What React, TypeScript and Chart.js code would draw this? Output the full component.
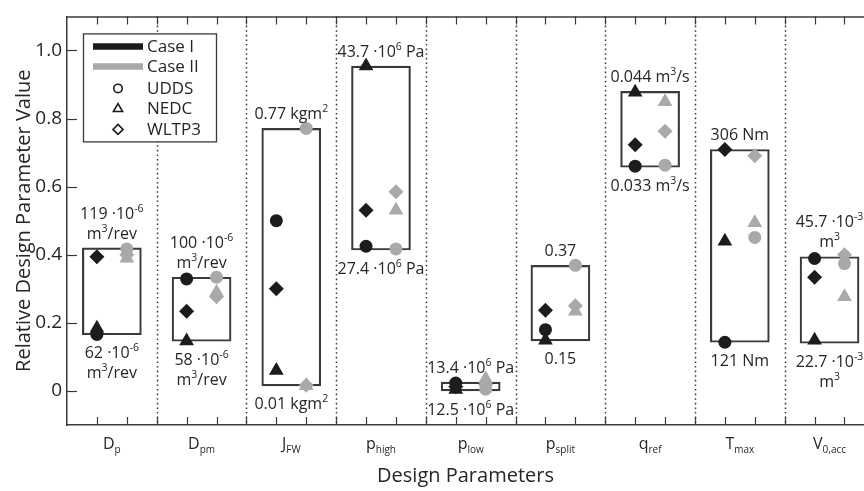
import React, { useEffect, useRef } from 'react';
import { Chart, registerables } from 'chart.js';

Chart.register(...registerables);

const FONT = '"Open Sans", sans-serif';
const BLACK = '#1c1c1c';
const GRAY = '#a9a9ab';
const AXIS = '#3a3a3a';
const TEXT = '#262626';

// Categories (main letter + subscript)
const catMain = ['D', 'D', 'J', 'p', 'p', 'p', 'q', 'T', 'V'];
const catSub = ['p', 'pm', 'FW', 'high', 'low', 'split', 'ref', 'max', '0,acc'];

// Range boxes (relative values)
const boxLow = [0.165, 0.146, 0.015, 0.414, 0.0, 0.147, 0.657, 0.143, 0.14];
const boxHigh = [0.42, 0.334, 0.771, 0.954, 0.026, 0.369, 0.88, 0.709, 0.394];

// Case I markers
const caseI_UDDS = [0.166, 0.329, 0.5, 0.425, 0.023, 0.18, 0.66, 0.143, 0.389];
const caseI_NEDC = [0.184, 0.147, 0.06, 0.954, 0.004, 0.149, 0.877, 0.44, 0.149];
const caseI_WLTP3 = [0.394, 0.234, 0.3, 0.531, 0.012, 0.237, 0.723, 0.709, 0.334];

// Case II markers
const caseII_UDDS = [0.417, 0.334, 0.771, 0.417, 0.005, 0.369, 0.663, 0.451, 0.374];
const caseII_NEDC = [0.39, 0.29, 0.015, 0.531, 0.036, 0.234, 0.849, 0.494, 0.277];
const caseII_WLTP3 = [0.4, 0.277, 0.017, 0.585, 0.018, 0.25, 0.763, 0.691, 0.4];

// Annotations above / below each box
const topNotes = [
  ['119 ·10^{-6}', 'm^{3}/rev'],
  ['100 ·10^{-6}', 'm^{3}/rev'],
  ['0.77 kgm^{2}'],
  ['43.7 ·10^{6} Pa'],
  ['13.4 ·10^{6} Pa'],
  ['0.37'],
  ['0.044 m^{3}/s'],
  ['306 Nm'],
  ['45.7 ·10^{-3}', 'm^{3}'],
];
const bottomNotes = [
  ['62 ·10^{-6}', 'm^{3}/rev'],
  ['58 ·10^{-6}', 'm^{3}/rev'],
  ['0.01 kgm^{2}'],
  ['27.4 ·10^{6} Pa'],
  ['12.5 ·10^{6} Pa'],
  ['0.15'],
  ['0.033 m^{3}/s'],
  ['121 Nm'],
  ['22.7 ·10^{-3}', 'm^{3}'],
];

const yTicks = [0, 0.2, 0.4, 0.6, 0.8, 1.0];
const legendCases = ['Case I', 'Case II'];
const legendCycles = ['UDDS', 'NEDC', 'WLTP3'];

type Seg = { t: string; k: 'n' | 'sup' | 'sub' };

function parseRich(s: string): Seg[] {
  const parts = s.split(/(\^\{[^}]*\}|_\{[^}]*\})/).filter((p) => p.length);
  return parts.map((p) => {
    if (p.startsWith('^{')) return { t: p.slice(2, -1), k: 'sup' as const };
    if (p.startsWith('_{')) return { t: p.slice(2, -1), k: 'sub' as const };
    return { t: p, k: 'n' as const };
  });
}

function drawRich(ctx: CanvasRenderingContext2D, segs: Seg[], cx: number, cy: number, size: number, small: number, shift: number) {
  const fontFor = (k: string) => `${k === 'n' ? size : small}px ${FONT}`;
  let w = 0;
  for (const s of segs) {
    ctx.font = fontFor(s.k);
    w += ctx.measureText(s.t).width;
  }
  let x = cx - w / 2;
  ctx.textAlign = 'left';
  ctx.textBaseline = 'alphabetic';
  const base = cy + size * 0.35;
  for (const s of segs) {
    ctx.font = fontFor(s.k);
    const dy = s.k === 'sup' ? -shift : s.k === 'sub' ? shift * 0.6 : 0;
    ctx.fillText(s.t, x, base + dy);
    x += ctx.measureText(s.t).width;
  }
}

function marker(ctx: CanvasRenderingContext2D, style: string, x: number, y: number, r: number) {
  ctx.beginPath();
  if (style === 'circle') {
    ctx.arc(x, y, r, 0, Math.PI * 2);
  } else if (style === 'triangle') {
    const h = r * 1.15;
    ctx.moveTo(x, y - h);
    ctx.lineTo(x + h * 0.95, y + h * 0.65);
    ctx.lineTo(x - h * 0.95, y + h * 0.65);
    ctx.closePath();
  } else {
    const h = r * 1.2;
    ctx.moveTo(x, y - h);
    ctx.lineTo(x + h, y);
    ctx.lineTo(x, y + h);
    ctx.lineTo(x - h, y);
    ctx.closePath();
  }
  ctx.stroke();
}

const overlay = {
  id: 'overlay',
  beforeDatasetsDraw(chart: any) {
    const { ctx, chartArea: a, scales } = chart;
    const x = scales.x;
    ctx.save();
    ctx.strokeStyle = AXIS;
    ctx.lineWidth = 1.5;
    ctx.setLineDash([1.6, 3]);
    for (let i = 1; i < catMain.length; i++) {
      const px = Math.round(x.getPixelForValue(i + 0.5)) + 0.5;
      ctx.beginPath();
      ctx.moveTo(px, a.top);
      ctx.lineTo(px, a.bottom);
      ctx.stroke();
    }
    ctx.restore();
  },
  afterDraw(chart: any) {
    const { ctx, chartArea: a, scales } = chart;
    const x = scales.x;
    const y = scales.y;
    ctx.save();
    // top border
    ctx.strokeStyle = AXIS;
    ctx.lineWidth = 1.5;
    ctx.beginPath();
    ctx.moveTo(a.left, a.top + 0.5);
    ctx.lineTo(a.right, a.top + 0.5);
    ctx.stroke();
    // inward ticks on y
    ctx.lineWidth = 1.2;
    for (const v of yTicks) {
      const py = Math.round(y.getPixelForValue(v)) + 0.5;
      ctx.beginPath();
      ctx.moveTo(a.left, py);
      ctx.lineTo(a.left + 10, py);
      ctx.stroke();
    }
    // inward ticks on x (top and bottom)
    for (let k = 1; ; k++) {
      const v = 0.5 + k / 3;
      if (v > x.max) break;
      const px = Math.round(x.getPixelForValue(v)) + 0.5;
      ctx.beginPath();
      ctx.moveTo(px, a.bottom);
      ctx.lineTo(px, a.bottom - 8);
      ctx.moveTo(px, a.top);
      ctx.lineTo(px, a.top + 8);
      ctx.stroke();
    }
    // category labels
    ctx.fillStyle = TEXT;
    for (let i = 0; i < catMain.length; i++) {
      const px = x.getPixelForValue(i + 1);
      drawRich(ctx, [{ t: catMain[i], k: 'n' }, { t: catSub[i], k: 'sub' }], px, a.bottom + 18, 16, 10, 7);
    }
    // annotations
    for (let i = 0; i < catMain.length; i++) {
      const px = x.getPixelForValue(i + 1);
      const topPx = y.getPixelForValue(boxHigh[i]);
      const botPx = y.getPixelForValue(boxLow[i]);
      const tl = topNotes[i];
      tl.forEach((line, j) => {
        const cy = topPx - 15 - (tl.length - 1 - j) * 20;
        drawRich(ctx, parseRich(line), px, cy, 16, 10.5, 7);
      });
      bottomNotes[i].forEach((line, j) => {
        const cy = botPx + 18 + j * 20;
        drawRich(ctx, parseRich(line), px, cy, 16, 10.5, 7);
      });
    }
    // legend
    const lx = a.left + 16;
    const ly = a.top + 17;
    ctx.fillStyle = '#ffffff';
    ctx.fillRect(lx, ly, 133, 108);
    ctx.strokeStyle = AXIS;
    ctx.lineWidth = 1.3;
    ctx.strokeRect(lx + 0.5, ly + 0.5, 133, 108);
    const rowY = [13, 33, 55, 75, 96];
    ctx.lineWidth = 6.5;
    [BLACK, GRAY].forEach((c, j) => {
      ctx.strokeStyle = c;
      ctx.beginPath();
      ctx.moveTo(lx + 10, ly + rowY[j]);
      ctx.lineTo(lx + 60, ly + rowY[j]);
      ctx.stroke();
    });
    ctx.strokeStyle = BLACK;
    ctx.lineWidth = 1.6;
    ['circle', 'triangle', 'rectRot'].forEach((s, j) => {
      marker(ctx, s, lx + 35, ly + rowY[j + 2], 4.2);
    });
    ctx.fillStyle = TEXT;
    ctx.font = `17px ${FONT}`;
    ctx.textAlign = 'left';
    ctx.textBaseline = 'middle';
    const labels = [...legendCases, ...legendCycles];
    labels.forEach((t, j) => ctx.fillText(t, lx + 64, ly + rowY[j] + 1));
    ctx.restore();
  },
};

function pts(vals: number[], off: number) {
  return vals.map((v, i) => ({ x: i + 1 + off, y: v }));
}

function markerSet(label: string, vals: number[], off: number, color: string, style: string, r: number) {
  return {
    type: 'scatter' as const,
    label,
    data: pts(vals, off),
    pointStyle: style,
    pointRadius: r,
    pointBackgroundColor: color,
    pointBorderColor: color,
    pointBorderWidth: 0,
    order: 0,
  };
}

export default function App() {
  const ref = useRef<HTMLCanvasElement | null>(null);
  useEffect(() => {
    document.body.style.margin = '0';
    const canvas = ref.current;
    if (!canvas) return;
    const chart = new Chart(canvas, {
      type: 'scatter',
      data: {
        datasets: [
          markerSet('Case I UDDS', caseI_UDDS, -1 / 6, BLACK, 'circle', 6.5),
          markerSet('Case I NEDC', caseI_NEDC, -1 / 6, BLACK, 'triangle', 8.5),
          markerSet('Case I WLTP3', caseI_WLTP3, -1 / 6, BLACK, 'rectRot', 7.5),
          markerSet('Case II UDDS', caseII_UDDS, 1 / 6, GRAY, 'circle', 6.5),
          markerSet('Case II NEDC', caseII_NEDC, 1 / 6, GRAY, 'triangle', 8.5),
          markerSet('Case II WLTP3', caseII_WLTP3, 1 / 6, GRAY, 'rectRot', 7.5),
          {
            type: 'bar' as const,
            label: 'range',
            data: boxLow.map((lo, i) => ({ x: i + 1, y: [lo, boxHigh[i]] })) as any,
            barThickness: 59,
            backgroundColor: 'rgba(0,0,0,0)',
            borderColor: AXIS,
            borderWidth: 1.5,
            borderSkipped: false,
            order: 10,
          } as any,
        ],
      },
      options: {
        responsive: false,
        maintainAspectRatio: false,
        animation: false,
        devicePixelRatio: 1,
        layout: { autoPadding: false, padding: { top: 5, right: 0, left: 0, bottom: 0 } },
        plugins: { legend: { display: false }, tooltip: { enabled: false } },
        scales: {
          x: {
            type: 'linear',
            offset: false,
            min: 0.5,
            max: 0.5 + (864 - 67) / 89.71,
            grid: { display: false, drawTicks: false, offset: false },
            border: { display: true, color: AXIS, width: 1.5 },
            ticks: { display: false },
            title: {
              display: true,
              text: 'Design Parameters',
              font: { family: FONT, size: 20 },
              color: TEXT,
              padding: { top: 0, bottom: 3 },
            },
            afterFit: (s: any) => {
              s.height = 66;
            },
          },
          y: {
            type: 'linear',
            min: -0.1,
            max: 1.1,
            beginAtZero: false,
            grid: { display: false, drawTicks: false },
            border: { display: true, color: AXIS, width: 1.5 },
            afterBuildTicks: (s: any) => {
              s.ticks = yTicks.map((v) => ({ value: v }));
            },
            ticks: {
              font: { family: FONT, size: 19 },
              color: TEXT,
              padding: 5,
              callback: (v: any) => (Number(v) === 0 ? '0' : Number(v).toFixed(1)),
            },
            title: {
              display: true,
              text: 'Relative Design Parameter Value',
              font: { family: FONT, size: 20 },
              color: TEXT,
              padding: { top: 12, bottom: 0 },
            },
            afterFit: (s: any) => {
              s.width = 67;
            },
          },
        },
      },
      plugins: [overlay],
    });
    return () => chart.destroy();
  }, []);
  return (
    <div style={{ width: 864, height: 491 }}>
      <canvas ref={ref} width={864} height={491} style={{ display: 'block' }} />
    </div>
  );
}
